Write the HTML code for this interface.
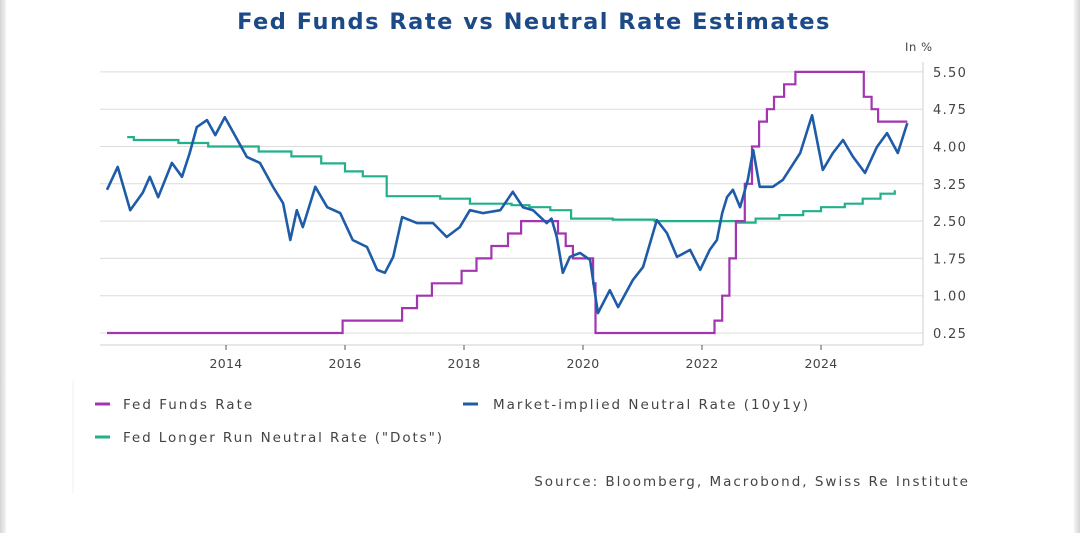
<!DOCTYPE html>
<html><head><meta charset="utf-8"><style>
body{margin:0;background:#fff;}
#wrap{position:relative;width:1080px;height:533px;background:#fff;overflow:hidden;font-family:"DejaVu Sans","Liberation Sans",sans-serif;}
.edge{position:absolute;top:0;bottom:0;width:6px;background:linear-gradient(90deg,#d4d4d4,#f4f4f4);}
</style></head><body>
<div id="wrap">
<div class="edge" style="left:0"></div>
<div class="edge" style="right:0;transform:scaleX(-1)"></div>
<svg id="chart" width="1080" height="533" style="position:absolute;left:0;top:0">
<line x1="73" y1="380" x2="73" y2="493" stroke="#f0f0f0" stroke-width="1"/>
<text x="534" y="29" text-anchor="middle" font-size="22.5" font-weight="bold" letter-spacing="1.5" fill="#1c4a86">Fed Funds Rate vs Neutral Rate Estimates</text>
<text x="905" y="51" font-size="11.5" letter-spacing="0.6" fill="#444">In %</text>
<g id="grid"></g><g id="series"></g><g id="axes"></g>
<g>
<line x1="95" y1="404" x2="110" y2="404" stroke="#a335b0" stroke-width="3"/>
<text x="123" y="409" font-size="13.5" letter-spacing="2.0" fill="#444">Fed Funds Rate</text>
<line x1="463" y1="404" x2="478" y2="404" stroke="#1f5ca8" stroke-width="3"/>
<text x="493" y="409" font-size="13.5" letter-spacing="2.0" fill="#444">Market-implied Neutral Rate (10y1y)</text>
<line x1="95" y1="437" x2="110" y2="437" stroke="#22b08a" stroke-width="3"/>
<text x="123" y="442" font-size="13.5" letter-spacing="1.9" fill="#444">Fed Longer Run Neutral Rate ("Dots")</text>
</g>
<text x="970" y="486" text-anchor="end" font-size="13.5" letter-spacing="2.0" fill="#444">Source: Bloomberg, Macrobond, Swiss Re Institute</text>
</svg>
</div>
<script>
const yTicks=[0.25,1.00,1.75,2.50,3.25,4.00,4.75,5.50];
const xTickYears=[2014,2016,2018,2020,2022,2024];
const ffDates=[2012.0,2015.96,2016.96,2017.21,2017.46,2017.96,2018.21,2018.46,2018.74,2018.96,2019.58,2019.71,2019.83,2020.17,2020.21,2022.21,2022.34,2022.46,2022.57,2022.72,2022.84,2022.96,2023.09,2023.21,2023.38,2023.57,2024.72,2024.85,2024.96,2025.45];
const ffValues=[0.25,0.5,0.75,1.0,1.25,1.5,1.75,2.0,2.25,2.5,2.25,2.0,1.75,1.25,0.25,0.5,1.0,1.75,2.5,3.25,4.0,4.5,4.75,5.0,5.25,5.5,5.0,4.75,4.5,4.5];
const dotsDates=[2012.34,2012.45,2013.2,2013.7,2014.55,2015.1,2015.6,2016.0,2016.3,2016.7,2017.6,2018.1,2018.8,2019.1,2019.45,2019.8,2020.5,2021.2,2022.6,2022.9,2023.3,2023.7,2024.0,2024.4,2024.7,2025.0,2025.24];
const dotsValues=[4.19,4.13,4.07,4.0,3.9,3.8,3.66,3.5,3.4,3.0,2.95,2.85,2.82,2.78,2.72,2.55,2.53,2.5,2.47,2.55,2.62,2.7,2.78,2.85,2.95,3.05,3.12];
const mktDates=[2012.0,2012.18,2012.39,2012.6,2012.72,2012.86,2013.09,2013.26,2013.39,2013.51,2013.68,2013.82,2013.98,2014.12,2014.35,2014.57,2014.79,2014.96,2015.08,2015.19,2015.29,2015.5,2015.7,2015.92,2016.13,2016.37,2016.54,2016.67,2016.81,2016.96,2017.21,2017.48,2017.71,2017.93,2018.1,2018.32,2018.61,2018.82,2018.99,2019.16,2019.39,2019.47,2019.56,2019.66,2019.78,2019.95,2020.12,2020.25,2020.45,2020.59,2020.84,2021.01,2021.24,2021.41,2021.58,2021.8,2021.97,2022.13,2022.25,2022.34,2022.42,2022.52,2022.64,2022.77,2022.86,2022.97,2023.19,2023.36,2023.65,2023.85,2024.03,2024.2,2024.37,2024.54,2024.74,2024.94,2025.11,2025.29,2025.45];
const mktValues=[3.13,3.59,2.72,3.07,3.39,2.98,3.67,3.39,3.87,4.39,4.53,4.23,4.59,4.29,3.79,3.67,3.19,2.86,2.12,2.72,2.38,3.19,2.78,2.66,2.12,1.98,1.52,1.46,1.78,2.58,2.46,2.46,2.18,2.38,2.72,2.66,2.72,3.09,2.78,2.72,2.46,2.55,2.18,1.46,1.78,1.86,1.72,0.65,1.11,0.77,1.32,1.58,2.52,2.26,1.78,1.92,1.52,1.92,2.12,2.66,2.98,3.13,2.78,3.33,3.93,3.19,3.19,3.33,3.87,4.63,3.53,3.87,4.13,3.79,3.47,3.99,4.27,3.87,4.47];

const NS='http://www.w3.org/2000/svg';
const X0=100,X1=923,AXY=345;
function xs(yr){return 226+(yr-2014)*59.5;}
function ys(v){return 333-(v-0.25)/0.75*37.3;}
function mk(tag,attrs,parent){const e=document.createElementNS(NS,tag);for(const k in attrs)e.setAttribute(k,attrs[k]);parent.appendChild(e);return e;}
const grid=document.getElementById('grid'),axes=document.getElementById('axes'),series=document.getElementById('series');
yTicks.forEach(v=>{
  const l=mk('line',{x1:X0,x2:X1,y1:ys(v),y2:ys(v),stroke:'#dcdcdc','stroke-width':1},grid);
  
  
  const t=mk('text',{x:933,y:ys(v)+5,'font-size':13,'letter-spacing':1.3,fill:'#444'},axes);
  t.textContent=v.toFixed(2);
  
  
});
const ax=mk('line',{x1:X0,x2:X1,y1:AXY,y2:AXY,stroke:'#cfcfcf','stroke-width':1},axes);


const ay=mk('line',{x1:X1,x2:X1,y1:62,y2:AXY,stroke:'#cfcfcf','stroke-width':1},axes);


xTickYears.forEach(yr=>{
  const tk=mk('line',{x1:xs(yr),x2:xs(yr),y1:AXY,y2:AXY+5,stroke:'#555','stroke-width':1},axes);
  
  
  const t=mk('text',{x:xs(yr),y:368,'text-anchor':'middle','font-size':12.5,'letter-spacing':0.3,fill:'#444'},axes);
  t.textContent=yr;
  
  
});
function stepPath(d,v){let p='';for(let i=0;i<d.length;i++){p+=(i?'L':'M')+xs(d[i]).toFixed(1)+','+ys(v[i]).toFixed(1);if(i<d.length-1)p+='L'+xs(d[i+1]).toFixed(1)+','+ys(v[i]).toFixed(1);}return p;}
function linePath(d,v){return d.map((x,i)=>(i?'L':'M')+xs(x).toFixed(1)+','+ys(v[i]).toFixed(1)).join('');}
const g=mk('path',{d:stepPath(dotsDates,dotsValues),fill:'none',stroke:'#22b08a','stroke-width':2.2},series);


const f=mk('path',{d:stepPath(ffDates,ffValues),fill:'none',stroke:'#a335b0','stroke-width':2.2},series);


const m=mk('path',{d:linePath(mktDates,mktValues),fill:'none',stroke:'#1f5ca8','stroke-width':2.6,'stroke-linejoin':'round'},series);


</script>
</body></html>
